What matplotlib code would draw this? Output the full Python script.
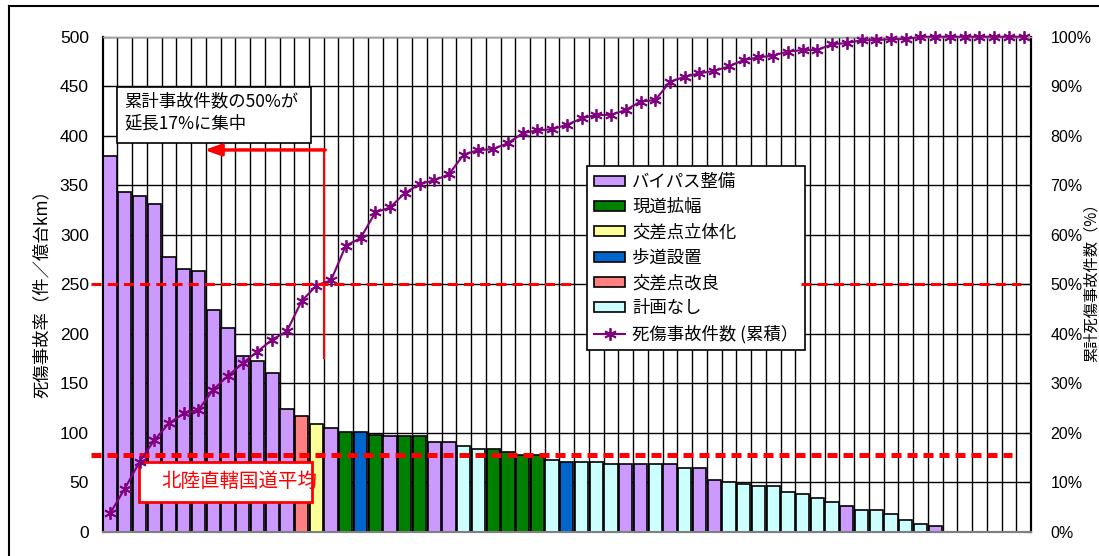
import matplotlib
matplotlib.use('Agg')
import numpy as np
from matplotlib import pyplot as plt
from matplotlib.patches import Patch, Rectangle
from matplotlib.lines import Line2D
from matplotlib.ticker import MultipleLocator, PercentFormatter

plt.rcParams['font.family'] = ['Noto Sans CJK JP', 'DejaVu Sans']

# 対策区分
measure_names = ['バイパス整備', '現道拡幅', '交差点立体化', '歩道設置', '交差点改良', '計画なし']
measure_colors = ['#CC99FF', '#008000', '#FFFF99', '#0066CC', '#FF8080', '#CCFFFF']

# 区間ごとの死傷事故率（件/億台km）、降順
rates = [380, 343, 339, 331, 277, 265, 263, 224, 206, 177,
         172, 160, 124, 117, 109, 105, 101, 101, 98, 97,
         97, 97, 91, 91, 87, 84, 84, 81, 77, 77,
         72, 70.5, 70.5, 70.5, 68, 68, 68, 68, 68, 64.5,
         64.5, 52, 50.5, 48, 46, 46, 40.5, 38, 34.4, 30.3,
         26, 22, 22, 18, 12, 7.8, 5.8]

# 区間ごとの対策（measure_names の番号）
measure_of_section = [0, 0, 0, 0, 0, 0, 0, 0, 0, 0,
                      0, 0, 0, 4, 2, 0, 1, 3, 1, 0,
                      1, 1, 0, 0, 5, 5, 1, 1, 1, 1,
                      5, 3, 5, 5, 5, 0, 0, 5, 0, 5,
                      0, 0, 5, 5, 5, 5, 5, 5, 5, 5,
                      0, 5, 5, 5, 5, 5, 0]

# 死傷事故件数の累積割合（%）
cumulative_share = [3.7, 8.7, 14.1, 18.5, 21.9, 23.9, 24.6, 28.7, 31.5, 34.0,
                    36.4, 38.8, 40.5, 46.6, 49.7, 50.8, 57.8, 59.3, 64.5, 65.5,
                    68.4, 70.2, 71.0, 72.2, 76.2, 77.1, 77.3, 78.5, 80.5, 81.1,
                    81.3, 82.2, 83.5, 84.2, 84.2, 85.2, 86.9, 87.2, 90.9, 91.9,
                    92.6, 93.1, 94.0, 95.3, 95.8, 96.2, 97.0, 97.3, 97.3, 98.5,
                    98.7, 99.3, 99.3, 99.5, 99.5, 100, 100, 100, 100, 100,
                    100, 100, 100]

average_rate = 77      # 北陸直轄国道平均
half_share = 0.5       # 累計事故件数の50%

W, H = 1099, 556
fig = plt.figure(figsize=(W / 100, H / 100), dpi=100)
ax = fig.add_axes([102.7 / W, 24.3 / H, 928.3 / W, 495 / H])

n_cat = len(cumulative_share)
x = np.arange(len(rates))
colors = [measure_colors[m] for m in measure_of_section]
ax.bar(x, rates, width=0.9, color=colors, edgecolor='black', linewidth=1.2, zorder=3)

# 目盛線
ax.vlines(np.arange(n_cat - 1) + 0.5, 0, 500, color='black', linewidth=1, zorder=1)
ax.set_yticks(np.arange(0, 501, 50))
ax.yaxis.grid(True, color='black', linewidth=1)
ax.set_axisbelow(True)
ax.set_xlim(-0.5, n_cat - 0.5)
ax.set_ylim(0, 500)
ax.set_xticks([])
ax.tick_params(axis='y', direction='in', length=5, pad=10, labelsize=12.5,
               labelfontfamily='Liberation Sans')

# 平均線
ax.plot([-1.3, 61.2], [average_rate, average_rate], color='#FF0000', linewidth=3.6,
        dashes=(2.0, 1.2), clip_on=False, zorder=5)

# 累積曲線
ax2 = ax.twinx()
ax2.set_ylim(0, 1)
ax2.yaxis.set_major_locator(MultipleLocator(0.1))
ax2.yaxis.set_major_formatter(PercentFormatter(1.0, decimals=0))
ax2.tick_params(axis='y', direction='in', length=5, pad=14, labelsize=11.5,
                labelfontfamily='Liberation Sans')
ax2.plot(np.arange(n_cat), np.array(cumulative_share) / 100, color='#800080', linewidth=1.5,
         marker=(6, 2, 0), markersize=9, markeredgewidth=1.3, clip_on=False, zorder=3)

for a in (ax, ax2):
    a.spines['left'].set_color('black')
    a.spines['left'].set_linewidth(1.5)
    a.spines['right'].set_color('black')
    a.spines['right'].set_linewidth(1.5)
    a.spines['bottom'].set_color('#808080')
    a.spines['bottom'].set_linewidth(1.5)
    a.spines['top'].set_color('#A0A0A0')
    a.spines['top'].set_linewidth(1)

# 50%線（凡例の左右）
for x0, x1 in [(-1.3, 31.4), (46.9, 61.8)]:
    ax2.plot([x0, x1], [half_share, half_share], color='#FF0000', linewidth=2.2,
             dashes=(3.3, 2.0), clip_on=False, zorder=6)

handles = [Patch(facecolor=c, edgecolor='black', linewidth=1.2, label=n)
           for n, c in zip(measure_names, measure_colors)]
handles.append(Line2D([], [], color='#800080', linewidth=1.5, marker=(6, 2, 0),
                      markersize=9, markeredgewidth=1.3, label='死傷事故件数 (累積）'))
leg = ax2.legend(handles=handles, loc='upper left', bbox_to_anchor=(587 / W, 1 - 166 / H),
                 bbox_transform=fig.transFigure, fancybox=False, framealpha=1,
                 edgecolor='black', fontsize=12.5, handlelength=1.8, handleheight=0.5,
                 handletextpad=0.4, labelspacing=0.42, borderpad=0.4, borderaxespad=0)
leg.get_frame().set_linewidth(1.2)
leg.set_zorder(5)

# 注記
ax.add_patch(Rectangle((0.45, 392.3), 13.19, 57.2, facecolor='white', edgecolor='black',
                       linewidth=1.2, zorder=6))
ax.text(0.95, 423.5, '累計事故件数の50%が\n延長17%に集中', fontsize=12.5, ha='left',
        va='center', linespacing=1.3, zorder=7)
ax.plot([14.5, 14.5], [175, 385.6], color='#FF0000', linewidth=1.5, zorder=6)
ax.annotate('', xy=(6.4, 385.6), xytext=(14.6, 385.6), zorder=6,
            arrowprops=dict(arrowstyle='-|>,head_length=0.7,head_width=0.25', color='#FF0000',
                            linewidth=2.5, mutation_scale=14, shrinkA=0, shrinkB=0))

ax.add_patch(Rectangle((1.98, 30.3), 11.74, 40.4, facecolor='white', edgecolor='#FF0000',
                       linewidth=2, zorder=6))
ax.text(8.75, 51, '北陸直轄国道平均', color='#FF0000', fontsize=14, ha='center',
        va='center', zorder=7)

fig.text(42 / W, 1 - 289 / H, '死傷事故率（件／億台km）', rotation=90, fontsize=12.5,
         ha='center', va='center')
fig.text(1091 / W, 1 - 279 / H, '累計死傷事故件数（%）', rotation=90, fontsize=11,
         ha='center', va='center')

# 外枠
fig.add_artist(Line2D([8.5 / W, 8.5 / W], [0, 1 - 6 / H], transform=fig.transFigure,
                      color='black', linewidth=1.5))
fig.add_artist(Line2D([8.5 / W, 1], [1 - 6 / H, 1 - 6 / H], transform=fig.transFigure,
                      color='black', linewidth=1.5))

fig.savefig('out.png', dpi=100)
